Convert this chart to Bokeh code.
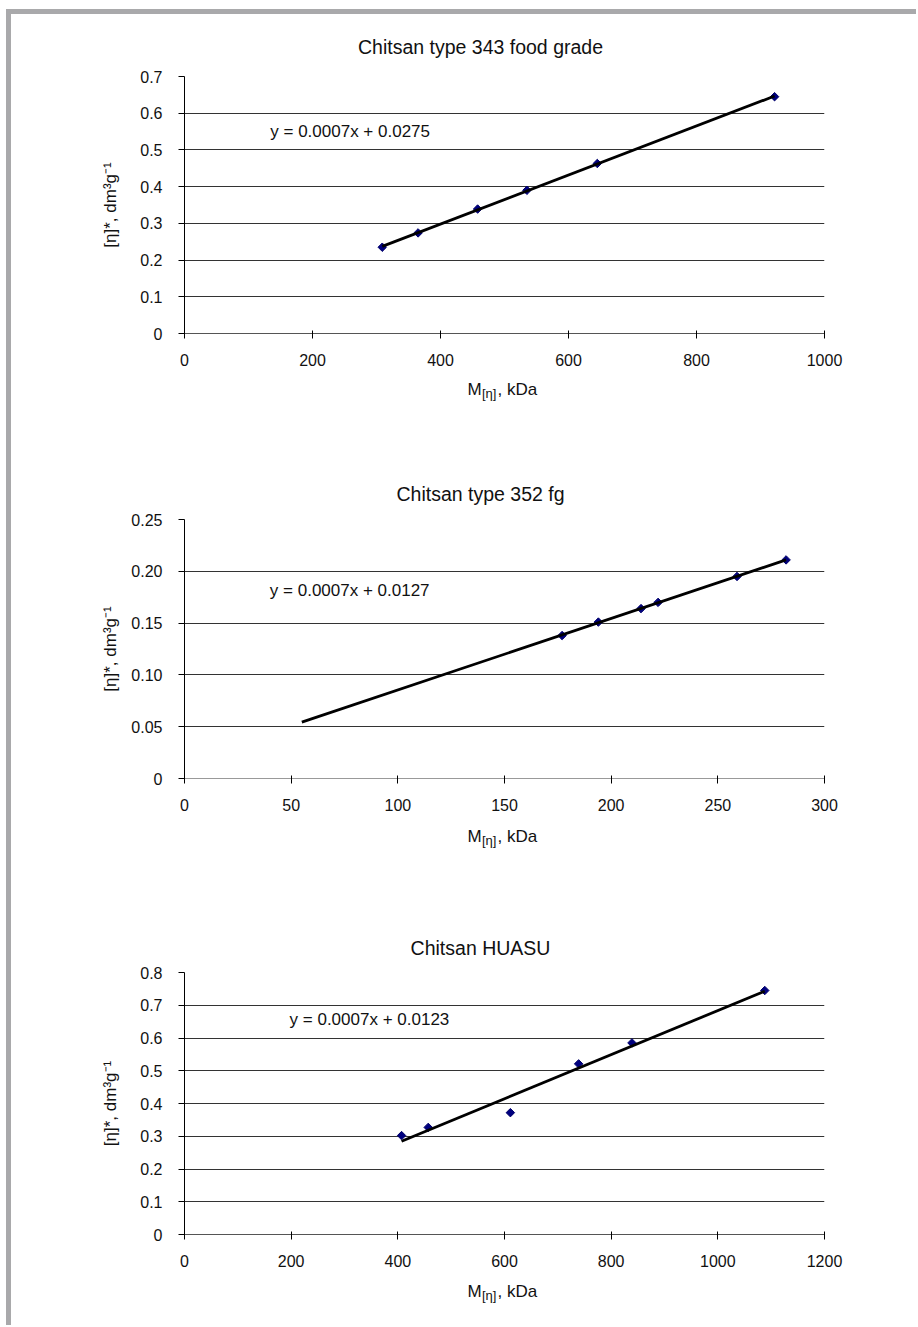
import numpy as np
from bokeh.plotting import figure
from bokeh.models import Range1d, FixedTicker, Label, Spacer
from bokeh.layouts import column, row
from bokeh.embed import file_html
from bokeh.resources import INLINE

FONT = "Liberation Sans"
TXT = "#111111"

# ---------------- data ----------------
titles = ["Chitsan type 343 food grade", "Chitsan type 352 fg", "Chitsan HUASU"]
equations = ["y = 0.0007x + 0.0275", "y = 0.0007x + 0.0127", "y = 0.0007x + 0.0123"]

m_343 = [309, 365, 458, 535, 645, 922]
eta_343 = [0.235, 0.274, 0.339, 0.390, 0.463, 0.645]

m_352 = [177, 194, 214, 222, 259, 282]
eta_352 = [0.138, 0.151, 0.164, 0.170, 0.195, 0.211]

m_huasu = [407, 457, 611, 739, 839, 1088]
eta_huasu = [0.302, 0.327, 0.372, 0.521, 0.585, 0.745]

# trendline start (chart 2 is forecast backward)
trend_from_352 = 55

x_ticks_1 = [0, 200, 400, 600, 800, 1000]
x_labels_1 = ["0", "200", "400", "600", "800", "1000"]
y_ticks_1 = [0, 0.1, 0.2, 0.3, 0.4, 0.5, 0.6, 0.7]
y_labels_1 = ["0", "0.1", "0.2", "0.3", "0.4", "0.5", "0.6", "0.7"]

x_ticks_2 = [0, 50, 100, 150, 200, 250, 300]
x_labels_2 = ["0", "50", "100", "150", "200", "250", "300"]
y_ticks_2 = [0, 0.05, 0.1, 0.15, 0.2, 0.25]
y_labels_2 = ["0", "0.05", "0.10", "0.15", "0.20", "0.25"]

x_ticks_3 = [0, 200, 400, 600, 800, 1000, 1200]
x_labels_3 = ["0", "200", "400", "600", "800", "1000", "1200"]
y_ticks_3 = [0, 0.1, 0.2, 0.3, 0.4, 0.5, 0.6, 0.7, 0.8]
y_labels_3 = ["0", "0.1", "0.2", "0.3", "0.4", "0.5", "0.6", "0.7", "0.8"]

x_title = ("M", "[η]", ", kDa")
y_title = "[η]*, dm³g⁻¹"

# ---------------- layout / style ----------------
FIG_W = 905
LEFT = 173
RIGHT = FIG_W - LEFT - 640
layouts = [
    dict(head=52, title_base=20, frame=257, foot=40, m_base=12, eq_pos=(134, 0.55),
         ylab_standoff=17, xaxis_color="#555555"),
    dict(head=92, title_base=16, frame=259, foot=40, m_base=14, eq_pos=(40, 0.1815),
         ylab_standoff=8, xaxis_color="#999999"),
    dict(head=100, title_base=15, frame=262, foot=47, m_base=13, eq_pos=(197, 0.6565),
         ylab_standoff=17, xaxis_color="#555555"),
]


def strip(height, xmax):
    s = figure(width=FIG_W, height=height, x_range=Range1d(0, xmax), y_range=Range1d(0, 1),
               x_axis_type=None, y_axis_type=None, output_backend="svg", toolbar_location=None,
               min_border=0, min_border_left=LEFT, min_border_right=RIGHT,
               min_border_top=0, min_border_bottom=0)
    s.outline_line_color = None
    s.background_fill_color = "white"
    s.border_fill_color = "white"
    return s


def make_chart(title, eq, xs, ys, xt, xl, yt, yl, trend_from, lay):
    xmax, ymax = xt[-1], yt[-1]
    xmid = xmax / 2.0

    # title strip
    head = strip(lay["head"], xmax)
    head.add_layout(Label(x=xmid, y=0, x_offset=-24, y_offset=lay["title_base"], text=title,
                          text_font=FONT, text_font_size="19.5px", text_color=TXT,
                          text_align="center", text_baseline="alphabetic"))

    top, bottom = 10, 44
    p = figure(width=FIG_W, height=top + lay["frame"] + bottom,
               x_range=Range1d(0, xmax), y_range=Range1d(0, ymax),
               output_backend="svg", toolbar_location=None,
               min_border_left=LEFT, min_border_right=RIGHT,
               min_border_top=top, min_border_bottom=bottom)
    p.outline_line_color = None
    p.background_fill_color = "white"
    p.border_fill_color = "white"
    p.xgrid.visible = False
    p.ygrid.ticker = FixedTicker(ticks=yt)
    p.ygrid.grid_line_color = "#333333"
    p.ygrid.grid_line_width = 1

    xa = p.xaxis[0]
    xa.ticker = FixedTicker(ticks=xt)
    xa.major_label_overrides = {t: l for t, l in zip(xt, xl)}
    xa.axis_line_color = lay["xaxis_color"]
    xa.major_tick_line_color = "#000000"
    xa.major_tick_in = 3
    xa.major_tick_out = 5
    xa.minor_tick_line_color = None
    xa.major_label_text_font = FONT
    xa.major_label_text_font_size = "16px"
    xa.major_label_text_color = TXT
    xa.major_label_standoff = 15

    ya = p.yaxis[0]
    ya.ticker = FixedTicker(ticks=yt)
    ya.major_label_overrides = {t: l for t, l in zip(yt, yl)}
    ya.axis_line_color = "#000000"
    ya.major_tick_line_color = "#000000"
    ya.major_tick_in = 0
    ya.major_tick_out = 6
    ya.minor_tick_line_color = None
    ya.major_label_text_font = FONT
    ya.major_label_text_font_size = "16px"
    ya.major_label_text_color = TXT
    ya.major_label_standoff = 16
    ya.axis_label = y_title
    ya.axis_label_text_font = FONT
    ya.axis_label_text_font_size = "17px"
    ya.axis_label_text_font_style = "normal"
    ya.axis_label_text_color = TXT
    ya.axis_label_standoff = lay["ylab_standoff"]

    # data markers
    p.scatter(xs, ys, marker="square", size=6, angle=np.pi / 4,
              fill_color="#00007f", line_color="#00006a", line_width=1)

    # linear trendline fitted to the data
    slope, icpt = np.polyfit(xs, ys, 1)
    tx = np.array([trend_from, max(xs)], dtype=float)
    p.line(tx, slope * tx + icpt, line_color="#000000", line_width=2.8)

    # equation
    p.add_layout(Label(x=lay["eq_pos"][0], y=lay["eq_pos"][1], text=eq,
                       text_font=FONT, text_font_size="17px", text_color=TXT,
                       text_align="left", text_baseline="middle"))

    # x axis title strip (with subscript)
    foot = strip(lay["foot"], xmax)
    mb = lay["m_base"]
    foot.add_layout(Label(x=xmid, y=1, x_offset=-37, y_offset=-mb, text=x_title[0],
                          text_font=FONT, text_font_size="17px", text_color=TXT,
                          text_align="left", text_baseline="alphabetic"))
    foot.add_layout(Label(x=xmid, y=1, x_offset=-22.5, y_offset=-(mb + 4), text=x_title[1],
                          text_font=FONT, text_font_size="13px", text_color=TXT,
                          text_align="left", text_baseline="alphabetic"))
    foot.add_layout(Label(x=xmid, y=1, x_offset=-7, y_offset=-mb, text=x_title[2],
                          text_font=FONT, text_font_size="17px", text_color=TXT,
                          text_align="left", text_baseline="alphabetic"))
    return [head, p, foot]


c1 = make_chart(titles[0], equations[0], m_343, eta_343, x_ticks_1, x_labels_1,
                y_ticks_1, y_labels_1, min(m_343), layouts[0])
c2 = make_chart(titles[1], equations[1], m_352, eta_352, x_ticks_2, x_labels_2,
                y_ticks_2, y_labels_2, trend_from_352, layouts[1])
c3 = make_chart(titles[2], equations[2], m_huasu, eta_huasu, x_ticks_3, x_labels_3,
                y_ticks_3, y_labels_3, min(m_huasu), layouts[2])

charts = column(*c1, *c2, *c3)
charts_h = sum(f.height for f in c1 + c2 + c3)

BORDER = "#a9a9ab"
top_gap = Spacer(width=910, height=9)
top_bar = Spacer(width=910, height=5, styles={"background-color": BORDER})
left_bar = Spacer(width=5, height=charts_h, styles={"background-color": BORDER})
left_gap = Spacer(width=6, height=9 + 5 + charts_h)
page = row(left_gap, column(top_gap, top_bar, row(left_bar, charts)))

open("out.html", "w").write(file_html(page, INLINE, title="Chitsan"))
